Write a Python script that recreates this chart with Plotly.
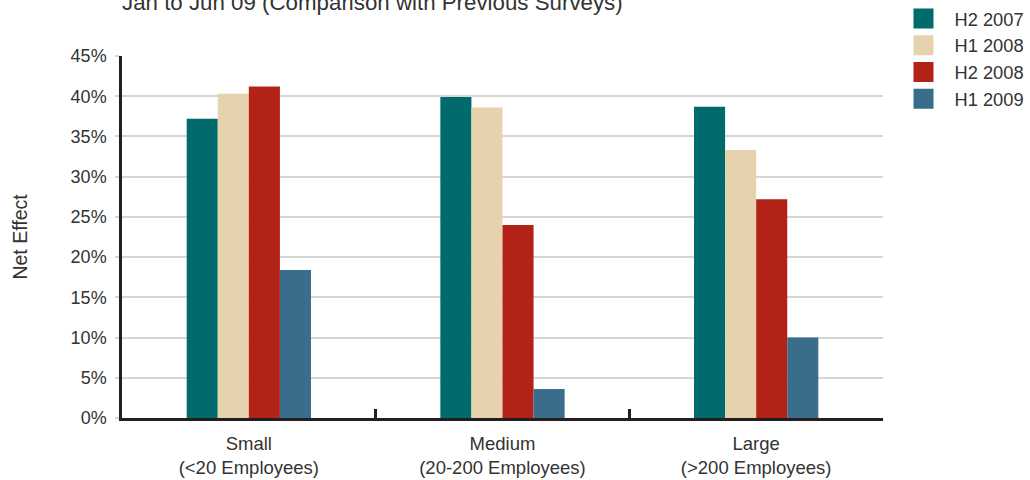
import plotly.graph_objects as go

# Company size groups shown along the x axis
categories = ["Small<br>(&lt;20 Employees)",
              "Medium<br>(20-200 Employees)",
              "Large<br>(&gt;200 Employees)"]

# Net effect (%) per survey period
h2_2007 = [37.2, 39.9, 38.7]
h1_2008 = [40.3, 38.6, 33.3]
h2_2008 = [41.2, 24.0, 27.2]
h1_2009 = [18.4, 3.6, 10.0]

series_names = ["H2 2007", "H1 2008", "H2 2008", "H1 2009"]
series_values = [h2_2007, h1_2008, h2_2008, h1_2009]
series_colors = ["#006a6c", "#e7d2ae", "#b22216", "#3a6c8c"]

y_ticks = [0, 5, 10, 15, 20, 25, 30, 35, 40, 45]
y_tick_labels = [f"{v}%" for v in y_ticks]

FONT = "Liberation Sans, Arial, Helvetica, sans-serif"
TEXT = "#333333"

fig = go.Figure()

for name, vals, col in zip(series_names, series_values, series_colors):
    fig.add_trace(go.Bar(
        x=categories, y=vals, name=name,
        marker=dict(color=col, line=dict(width=0)),
        showlegend=False,
    ))

# Legend entries with large square swatches
for i, (name, col) in enumerate(zip(series_names, series_colors)):
    fig.add_trace(go.Scatter(
        x=[None], y=[None], mode="markers", name=name,
        legendgroup=f"g{i}",
        marker=dict(symbol="square", size=16, color=col,
                    line=dict(color=col, width=4)),
    ))

fig.update_layout(
    width=1030, height=480,
    margin=dict(l=122, r=147, t=56, b=62, autoexpand=False),
    paper_bgcolor="white", plot_bgcolor="white",
    barmode="group", bargap=0.51, bargroupgap=0,
    font=dict(family=FONT, color=TEXT, size=18),
    legend=dict(
        xref="container", yref="container",
        x=892.5 / 1030, y=1 + 1 / 480,
        xanchor="left", yanchor="top",
        font=dict(size=18.3, color=TEXT),
        itemsizing="trace", itemwidth=52, tracegroupgap=0,
        bgcolor="rgba(0,0,0,0)",
    ),
    annotations=[dict(
        text="Jan to Jun 09 (Comparison with Previous Surveys)",
        xref="paper", yref="paper", x=-0.003, y=(418 - 3) / 362,
        xanchor="left", yanchor="middle", showarrow=False,
        font=dict(size=22.3, color=TEXT, family=FONT),
    )],
)

fig.update_xaxes(
    showline=True, linecolor="#231f20", linewidth=2.5,
    ticks="inside", tickson="boundaries", ticklen=9,
    tickcolor="#231f20", tickwidth=2.5,
    showgrid=False, tickfont=dict(size=18.5, color=TEXT),
    ticklabelstandoff=7, automargin=False,
)

fig.update_yaxes(
    range=[0, 45], tickmode="array", tickvals=y_ticks, ticktext=y_tick_labels,
    showline=True, linecolor="#231f20", linewidth=2.5,
    showgrid=True, gridcolor="#d6d6d6", gridwidth=2,
    ticks="outside", ticklen=4, tickcolor="#d6d6d6", tickwidth=2,
    zeroline=False, tickfont=dict(size=18, color=TEXT),
    ticklabelstandoff=5, automargin=False,
    title=dict(text="Net Effect", font=dict(size=19.5, color=TEXT), standoff=38),
)

fig.write_html("out.html")
